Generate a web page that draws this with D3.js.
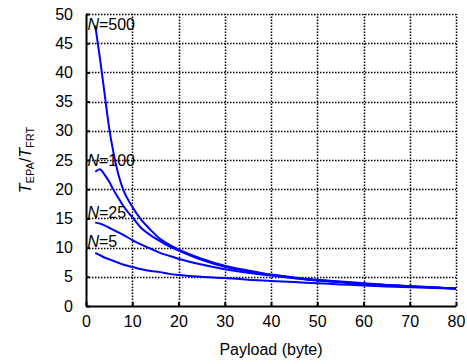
<!DOCTYPE html>
<html>
<head>
<meta charset="utf-8">
<script src="https://cdn.jsdelivr.net/npm/d3@7"></script>
<style>
body { margin: 0; background: #fff; }
svg { font-family: "Liberation Sans", Arial, sans-serif; }
</style>
</head>
<body>
<div id="chart"></div>
<script>
var width = 467, height = 364;
var margin = {left: 86, right: 11, top: 14, bottom: 58};

// payload sizes (byte)
var payload = [2, 3, 4, 5, 6, 7, 8, 10, 12, 14, 16, 18, 20, 25, 30, 35, 40, 45, 50, 55, 60, 65, 70, 75, 80];
// T_EPA / T_FRT for each N
var n500 = [48, 42.5, 36.5, 30.5, 26, 22.5, 20, 17, 14.7, 13, 11.5, 10.5, 9.7, 8.1, 6.9, 6.1, 5.4, 4.9, 4.5, 4.2, 3.9, 3.6, 3.4, 3.2, 3.0];
var n100 = [23, 23.4, 22.5, 21.3, 19.8, 18.5, 17.2, 15.2, 13.3, 12.1, 11.1, 10.2, 9.5, 7.9, 6.7, 5.9, 5.3, 4.8, 4.4, 4.1, 3.8, 3.6, 3.4, 3.2, 3.0];
var n25 = [14.3, 14.1, 13.8, 13.4, 13.0, 12.6, 12.2, 11.3, 10.5, 9.8, 9.1, 8.6, 8.1, 7.1, 6.3, 5.7, 5.2, 4.75, 4.35, 4.05, 3.8, 3.55, 3.35, 3.15, 3.0];
var n5 = [9.1, 8.7, 8.3, 8.0, 7.7, 7.4, 7.1, 6.7, 6.3, 6.0, 5.8, 5.5, 5.3, 5.0, 4.8, 4.5, 4.3, 4.1, 3.9, 3.7, 3.5, 3.35, 3.2, 3.1, 2.95];
var seriesNames = ["500", "100", "25", "5"];
var labelY = [47.3, 23.9, 15.1, 10.1];
var xTicks = [0, 10, 20, 30, 40, 50, 60, 70, 80];
var yTicks = [0, 5, 10, 15, 20, 25, 30, 35, 40, 45, 50];

var series = [n500, n100, n25, n5];

var svg = d3.select("#chart").append("svg")
  .attr("width", width)
  .attr("height", height);

var x = d3.scaleLinear().domain([0, 80]).range([margin.left, width - margin.right]);
var y = d3.scaleLinear().domain([0, 50]).range([height - margin.bottom, margin.top]);

// dotted grid
var grid = svg.append("g").attr("class", "grid");
grid.selectAll("line.v")
  .data(xTicks.slice(1))
  .enter().append("line")
  .attr("class", "v")
  .attr("x1", function(d) { return Math.round(x(d)) + 0.5; })
  .attr("x2", function(d) { return Math.round(x(d)) + 0.5; })
  .attr("y1", y(0))
  .attr("y2", y(50));
grid.selectAll("line.h")
  .data(yTicks.slice(1))
  .enter().append("line")
  .attr("class", "h")
  .attr("x1", x(0))
  .attr("x2", x(80))
  .attr("y1", function(d) { return Math.round(y(d)) + 0.5; })
  .attr("y2", function(d) { return Math.round(y(d)) + 0.5; });
grid.selectAll("line")
  .attr("stroke", "#000")
  .attr("stroke-width", 1.5)
  .attr("stroke-dasharray", "1.5,1.5");

// axes, ticks inward
var xAxis = svg.append("g")
  .attr("transform", "translate(0," + y(0) + ")")
  .call(d3.axisBottom(x).tickValues(xTicks).tickSizeInner(-4).tickSizeOuter(0).tickPadding(10));
var yAxis = svg.append("g")
  .attr("transform", "translate(" + x(0) + ",0)")
  .call(d3.axisLeft(y).tickValues(yTicks).tickSizeInner(-4).tickSizeOuter(0).tickPadding(13));

[xAxis, yAxis].forEach(function(a) {
  a.select(".domain").attr("stroke", "#000").attr("stroke-width", 2);
  a.selectAll(".tick line").attr("stroke", "#000").attr("stroke-width", 2);
  a.selectAll(".tick text")
    .attr("fill", "#000")
    .style("font-size", "16px")
    .style("font-family", "'Liberation Sans', Arial, sans-serif");
});

// curves
var line = d3.line()
  .x(function(d, i) { return x(payload[i]); })
  .y(function(d) { return y(d); })
  .curve(d3.curveMonotoneX);

svg.selectAll("path.curve")
  .data(series)
  .enter().append("path")
  .attr("class", "curve")
  .attr("d", line)
  .attr("fill", "none")
  .attr("stroke", "#0000ff")
  .attr("stroke-width", 2);

// N labels
var lab = svg.selectAll("text.nlab")
  .data(seriesNames)
  .enter().append("text")
  .attr("class", "nlab")
  .attr("x", x(0.3))
  .attr("y", function(d, i) { return y(labelY[i]); })
  .style("font-size", "16px");
lab.append("tspan").style("font-style", "italic").text("N");
lab.append("tspan").text(function(d) { return "=" + d; });

// x label
svg.append("text")
  .attr("x", (x(0) + x(80)) / 2)
  .attr("y", 355)
  .attr("text-anchor", "middle")
  .style("font-size", "16px")
  .text("Payload (byte)");

// y label
var yl = svg.append("text")
  .attr("transform", "translate(31," + ((y(0) + y(50)) / 2) + ") rotate(-90)")
  .attr("text-anchor", "middle")
  .style("font-size", "16px");
yl.append("tspan").style("font-style", "italic").text("T");
yl.append("tspan").attr("dy", 3).style("font-size", "11px").text("EPA");
yl.append("tspan").attr("dy", -3).text("/");
yl.append("tspan").style("font-style", "italic").text("T");
yl.append("tspan").attr("dy", 3).style("font-size", "11px").text("FRT");
</script>
</body>
</html>
